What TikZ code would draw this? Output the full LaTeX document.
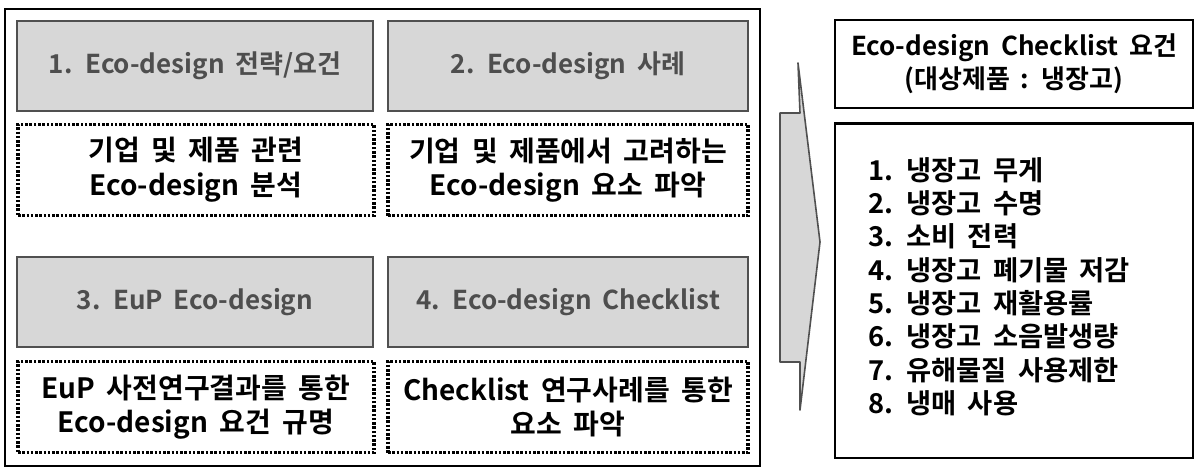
\documentclass[tikz,border=0pt]{standalone}
\usepackage{fontspec}
\setmainfont{Noto Sans CJK KR}[BoldFont={Noto Sans CJK KR Bold}, WordSpace=1.8]
\usetikzlibrary{positioning}
\definecolor{boxgray}{RGB}{215,215,215}
\definecolor{edgegray}{RGB}{80,80,80}
\definecolor{textgray}{RGB}{78,78,78}
\tikzset{
  titlebox/.style={draw=edgegray, fill=boxgray, line width=1.6pt,
    minimum height=67.5pt, text=textgray,
    font=\bfseries\fontsize{19.5}{24}\selectfont},
  notebox/.style={draw, line width=2.4pt, dash pattern=on 1.9pt off 1.3pt,
    minimum height=68.5pt, align=center,
    font=\bfseries\fontsize{21}{26}\selectfont},
  leftcol/.style={minimum width=267pt},
  rightcol/.style={minimum width=270pt},
  listbox/.style={draw, line width=2pt, minimum width=268.5pt}
}
\begin{document}
\begin{tikzpicture}[x=0.75pt,y=-0.75pt]
  \useasboundingbox (0,0) rectangle (1196,471);
  % left frame
  \draw [line width=2.2pt] (5,9) rectangle (760,466);

  \node [titlebox, leftcol] (t1) at (195,66) {1. Eco-design 전략/요건};
  \node [notebox, leftcol] (n1) at (196,170) {기업 및 제품 관련\\Eco-design 분석};
  \node [titlebox, rightcol] (t2) at (568,66) {2. Eco-design 사례};
  \node [notebox, rightcol] (n2) at (568,170) {기업 및 제품에서 고려하는\\Eco-design 요소 파악};

  \node [titlebox, leftcol] (t3) at (195,302) {3. EuP Eco-design};
  \node [notebox, leftcol] (n3) at (196,407) {EuP 사전연구결과를 통한\\Eco-design 요건 규명};
  \node [titlebox, rightcol] (t4) at (568,302) {4. Eco-design Checklist};
  \node [notebox, rightcol] (n4) at (568,407) {Checklist 연구사례를 통한\\요소 파악};

  % block arrow
  \draw [draw=edgegray, fill=boxgray, line width=1.2pt, line join=round]
    (780,113) -- (800,113) -- (798,63) -- (820,242) -- (800,410)
    -- (800,362) -- (780,362) -- cycle;

  % right side
  \node [listbox, minimum height=66pt, align=center,
    font=\bfseries\fontsize{19.5}{24.75}\selectfont] (req) at (1014,64)
    {Eco-design Checklist 요건\\(대상제품 : 냉장고)};
  \node [listbox, minimum height=251pt] (items) at (1014,290.5) {};
  \node [anchor=north west, align=left, inner sep=0pt,
    font=\bfseries\fontsize{20.5}{25}\selectfont] (list) at (868,157)
    {1. 냉장고 무게\\2. 냉장고 수명\\3. 소비 전력\\4. 냉장고 폐기물 저감\\
     5. 냉장고 재활용률\\6. 냉장고 소음발생량\\7. 유해물질 사용제한\\8. 냉매 사용};
\end{tikzpicture}
\end{document}
